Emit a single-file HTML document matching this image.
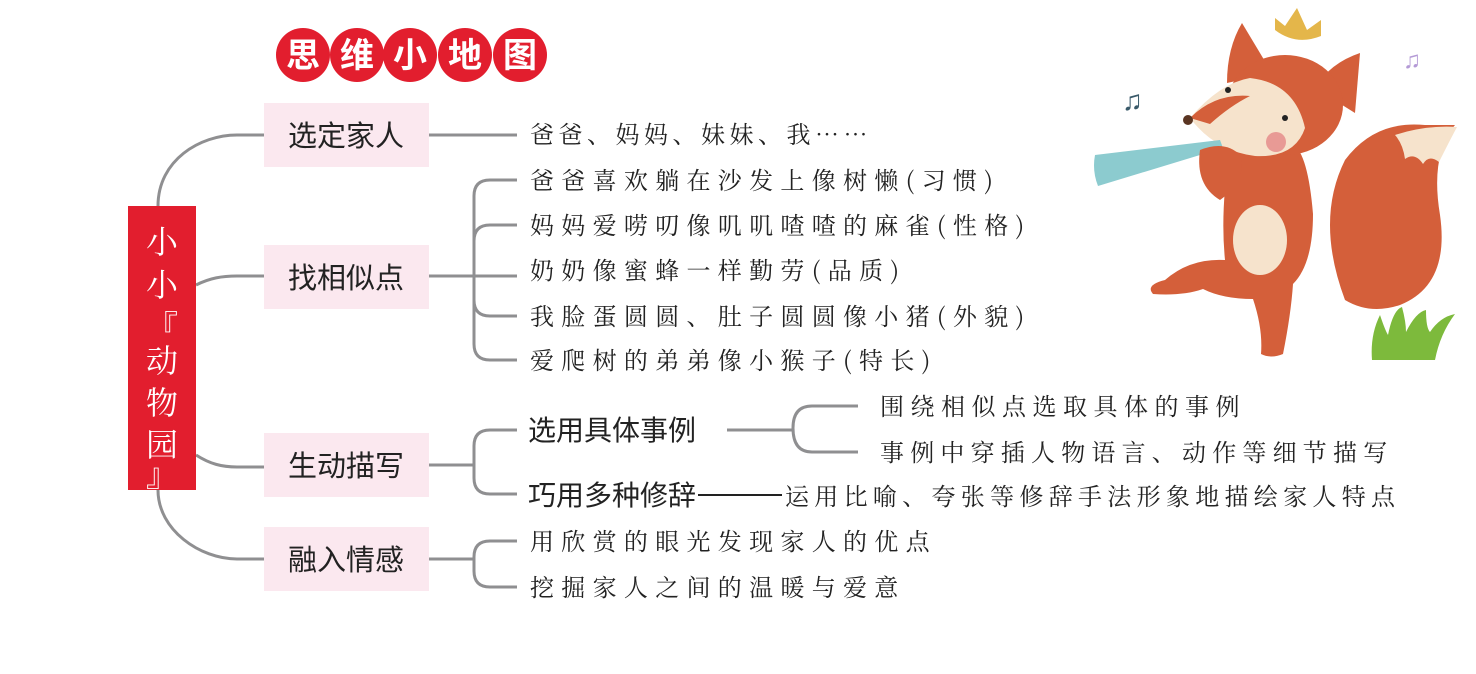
<!DOCTYPE html>
<html><head><meta charset="utf-8"><style>
html,body{margin:0;padding:0;background:#fff;}
svg{display:block}
.s{font-family:"Liberation Sans","Noto Sans CJK SC",sans-serif;}
.k{font-family:"Noto Serif CJK SC","WenQuanYi Zen Hei",serif;}
</style></head><body>
<svg width="1476" height="674" viewBox="0 0 1476 674" xmlns="http://www.w3.org/2000/svg">
<rect width="1476" height="674" fill="#fff"/>
<g fill="#e21e2e">
<circle cx="303" cy="55" r="27"/><circle cx="357" cy="55" r="27"/><circle cx="410" cy="55" r="27"/><circle cx="465" cy="55" r="27"/><circle cx="520" cy="55" r="27"/>
</g>
<g class="s" fill="#fff" font-size="34" font-weight="bold" text-anchor="middle">
<text x="303" y="67">思</text><text x="357" y="67">维</text><text x="410" y="67">小</text><text x="465" y="67">地</text><text x="520" y="67">图</text>
</g>
<g fill="none" stroke="#8f8f91" stroke-width="3">
<path d="M158 206 C158 160 200 135 237 135 L264 135"/>
<path d="M196 285 C210 278 222 276 237 276 L264 276"/>
<path d="M196 455 C210 464 222 467 237 467 L264 467"/>
<path d="M158 490 C158 530 200 559 237 559 L264 559"/>
<path d="M429 135 L517 135"/>
<path d="M429 276 L517 276"/>
<path d="M517 180 L490 180 Q474 180 474 196 L474 344 Q474 360 490 360 L517 360"/>
<path d="M517 225 L490 225 Q474 225 474 241"/>
<path d="M517 316 L490 316 Q474 316 474 300"/>
<path d="M429 465 L474 465"/>
<path d="M517 430 L490 430 Q474 430 474 446 L474 478 Q474 494 490 494 L517 494"/>
<path d="M727 430 L793 430"/>
<path d="M858 406 L812 406 Q793 406 793 428 Q793 452 812 452 L858 452"/>
<path d="M429 559 L474 559"/>
<path d="M517 541 L490 541 Q474 541 474 557 L474 571 Q474 587 490 587 L517 587"/>
</g>
<rect x="128" y="206" width="68" height="284" fill="#e21e2e"/>
<g class="k" fill="#fff" font-size="32" text-anchor="middle">
<text x="162" y="253">小</text><text x="162" y="296">小</text>
<text x="162" y="338">『</text><text x="162" y="372">动</text><text x="162" y="414">物</text><text x="162" y="456">园</text><text x="162" y="486">』</text>
</g>
<g fill="#fbe8ef">
<rect x="264" y="103" width="165" height="64"/><rect x="264" y="245" width="165" height="64"/><rect x="264" y="433" width="165" height="64"/><rect x="264" y="527" width="165" height="64"/>
</g>
<g class="s" fill="#222" font-size="29" text-anchor="middle">
<text x="346" y="146">选定家人</text><text x="346" y="288">找相似点</text><text x="346" y="476">生动描写</text><text x="346" y="570">融入情感</text>
</g>
<g class="k" fill="#222" font-size="24">
<text x="530" y="143" letter-spacing="4.5">爸爸、妈妈、妹妹、我……</text>
<text x="530" y="189" letter-spacing="7.3">爸爸喜欢躺在沙发上像树懒(习惯)</text>
<text x="530" y="234" letter-spacing="7.3">妈妈爱唠叨像叽叽喳喳的麻雀(性格)</text>
<text x="530" y="279" letter-spacing="7.3">奶奶像蜜蜂一样勤劳(品质)</text>
<text x="530" y="325" letter-spacing="7.3">我脸蛋圆圆、肚子圆圆像小猪(外貌)</text>
<text x="530" y="369" letter-spacing="7.3">爱爬树的弟弟像小猴子(特长)</text>
<text x="880" y="415" letter-spacing="6.5">围绕相似点选取具体的事例</text>
<text x="880" y="461" letter-spacing="6.2">事例中穿插人物语言、动作等细节描写</text>
<text x="785" y="505" letter-spacing="5.3">运用比喻、夸张等修辞手法形象地描绘家人特点</text>
<text x="530" y="550" letter-spacing="7.3">用欣赏的眼光发现家人的优点</text>
<text x="530" y="596" letter-spacing="7.3">挖掘家人之间的温暖与爱意</text>
</g>
<g class="s" fill="#222" font-size="28">
<text x="528" y="440">选用具体事例</text>
<text x="528" y="505">巧用多种修辞</text>
</g>
<line x1="698" y1="495" x2="782" y2="495" stroke="#222" stroke-width="2"/>
<g>
<path d="M1372 360 q-2 -25 8 -45 q5 15 8 20 q5 -25 14 -28 q4 15 4 25 q10 -20 20 -22 q0 18 4 22 q10 -15 25 -18 q-15 20 -20 46 z" fill="#7dba3c"/>
<path d="M1345 300 q-30 -80 0 -140 q30 -40 80 -35 l30 0 q-25 30 -15 90 q10 70 -40 90 q-30 10 -55 -5 z" fill="#d45f3a"/>
<path d="M1395 135 q30 -10 62 -8 q-8 15 -18 35 q-10 -8 -16 2 q-8 -12 -18 -5 q-2 -15 -10 -24z" fill="#f6e3cc"/>
<path d="M1230 150 q-10 60 -5 110 q-35 -2 -60 20 q-20 5 -12 14 q30 2 50 -5 q20 10 50 10 q10 30 8 55 q10 5 22 0 q8 -40 10 -70 q20 -20 20 -70 q-5 -60 -20 -70 z" fill="#d45f3a"/>
<ellipse cx="1260" cy="240" rx="27" ry="35" fill="#f6e3cc"/>
<path d="M1242 23 q-15 25 -15 60 l45 -10 z" fill="#d45f3a"/>
<path d="M1360 53 q-30 10 -45 35 l40 25 z" fill="#d45f3a"/>
<ellipse cx="1285" cy="105" rx="58" ry="50" fill="#d45f3a"/>
<path d="M1190 118 q30 -35 60 -40 q45 5 55 50 q-10 30 -50 28 q-40 -5 -65 -38 z" fill="#f6e3cc"/>
<path d="M1190 118 q25 -25 60 -22 q-20 10 -40 28 z" fill="#d45f3a"/>
<circle cx="1188" cy="120" r="5" fill="#5a3522"/>
<circle cx="1276" cy="142" r="10" fill="#e89a95"/>
<circle cx="1228" cy="90" r="3" fill="#222"/><circle cx="1285" cy="118" r="3" fill="#222"/>
<path d="M1095 155 l125 -15 l3 8 l-125 38 q-6 -15 -3 -31 z" fill="#8ccbcf"/>
<path d="M1200 150 q25 -10 40 5 q8 25 -20 45 q-25 -15 -20 -50z" fill="#d45f3a"/>
<path d="M1275 30 l0 -12 l10 8 l12 -18 l10 22 l14 -10 l0 16 q-25 10 -46 -6z" fill="#e4b64a"/>
<text x="1122" y="110" font-size="28" fill="#3a5a6a" class="s">♫</text>
<text x="1403" y="68" font-size="24" fill="#b49ad6" class="s">♫</text>
</g>
</svg>
</body></html>
